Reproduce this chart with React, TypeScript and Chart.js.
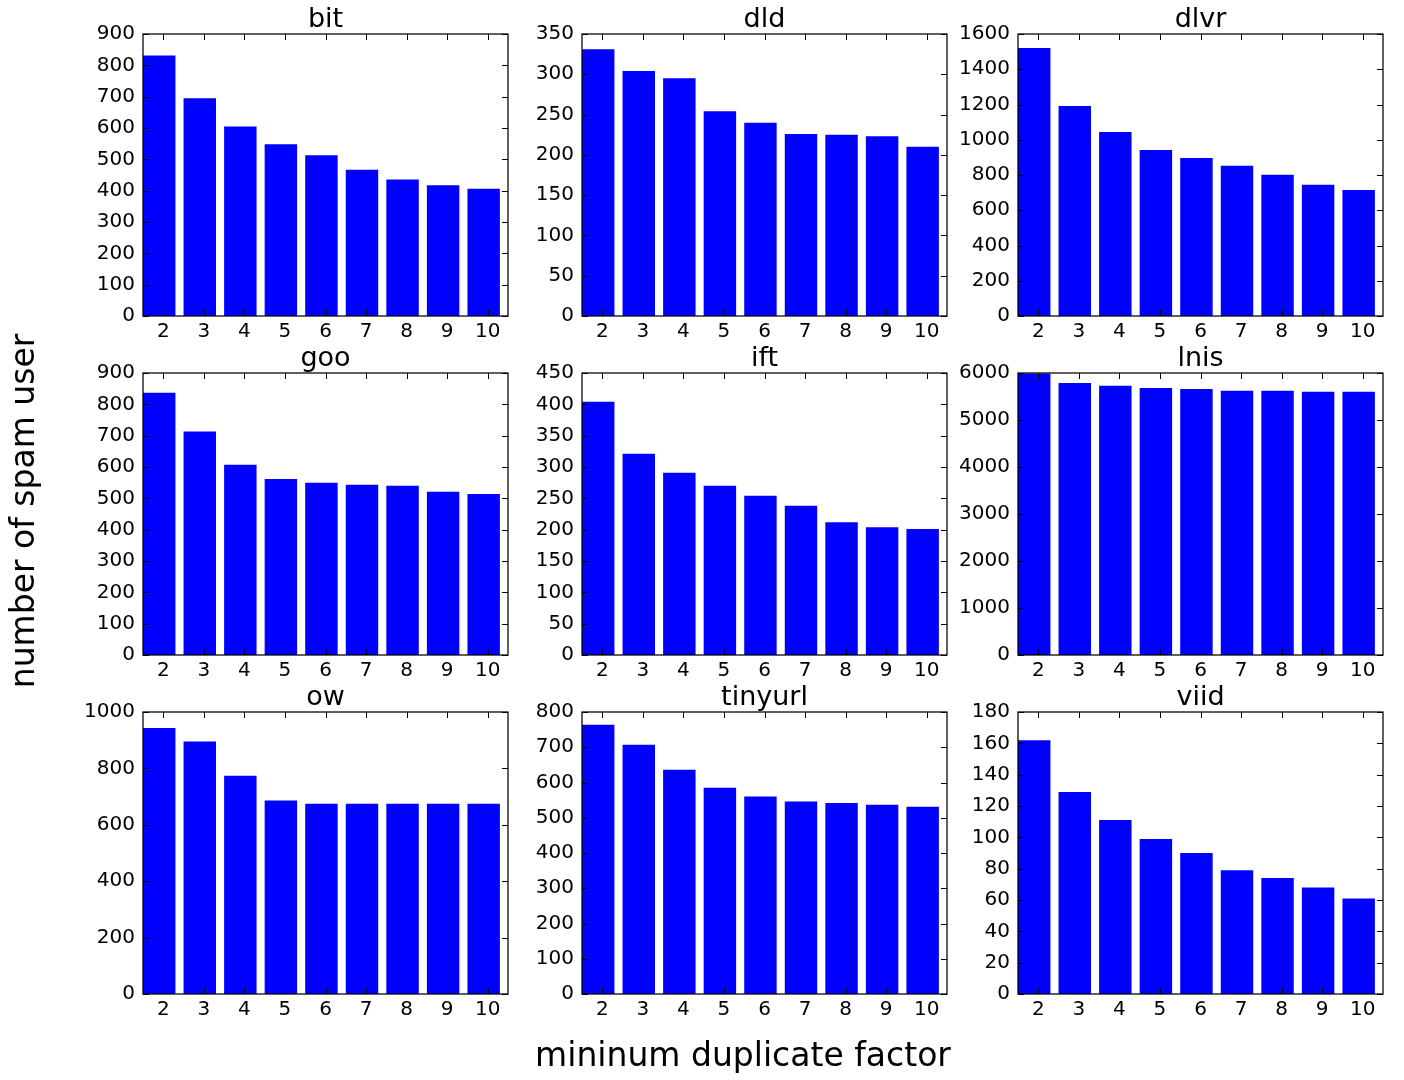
import React, { useEffect, useRef } from 'react';
import { Chart, registerables } from 'chart.js';

Chart.register(...registerables);

const FONT = '"DejaVu Sans", sans-serif';

// minimum duplicate factor on the x axis
const categories = [2, 3, 4, 5, 6, 7, 8, 9, 10];

const titles = ['bit', 'dld', 'dlvr', 'goo', 'ift', 'lnis', 'ow', 'tinyurl', 'viid'];

// number of spam users per shortener
const bitUsers = [831, 695, 605, 548, 513, 467, 436, 417, 406];
const dldUsers = [331, 304, 295, 254, 240, 226, 225, 223, 210];
const dlvrUsers = [1520, 1191, 1044, 942, 896, 853, 802, 745, 715];
const gooUsers = [837, 713, 607, 562, 550, 543, 540, 521, 514];
const iftUsers = [404, 321, 291, 270, 254, 238, 212, 204, 201];
const lnisUsers = [5990, 5788, 5731, 5682, 5660, 5625, 5625, 5603, 5603];
const owUsers = [943, 895, 774, 686, 675, 675, 675, 675, 675];
const tinyurlUsers = [764, 707, 636, 585, 560, 546, 542, 537, 531];
const viidUsers = [162, 129, 111, 99, 90, 79, 74, 68, 61];

// y tick range for each panel
const yMax = [900, 350, 1600, 900, 450, 6000, 1000, 800, 180];
const yStep = [100, 50, 200, 100, 50, 1000, 200, 100, 20];

const series = [bitUsers, dldUsers, dlvrUsers, gooUsers, iftUsers, lnisUsers, owUsers, tinyurlUsers, viidUsers];

// layout (px)
const AX_W = 365;
const AX_H = 282;
const COL_LEFT = [143, 582, 1018];
const ROW_TOP = [34, 373, 712];
const PAD_L = 80;
const PAD_T = 40;
const PAD_R = 10;
const PAD_B = 36;
const TICK = 6;
// matplotlib-style bars: span [x - 0.5, x + 0.3]
const BAR_SHIFT = -0.1;

const makeFrame = (title: string) => ({
  id: 'frame',
  afterDatasetsDraw(chart: any) {
    const { ctx, chartArea, scales } = chart;
    const { left, right, top, bottom } = chartArea;
    ctx.save();
    ctx.strokeStyle = '#000';
    ctx.lineWidth = 1;
    ctx.beginPath();
    scales.x.ticks.forEach((t: any) => {
      const px = Math.round(scales.x.getPixelForValue(t.value)) + 0.5;
      ctx.moveTo(px, bottom);
      ctx.lineTo(px, bottom - TICK);
      ctx.moveTo(px, top);
      ctx.lineTo(px, top + TICK);
    });
    scales.y.ticks.forEach((t: any) => {
      const py = Math.round(scales.y.getPixelForValue(t.value)) + 0.5;
      ctx.moveTo(left, py);
      ctx.lineTo(left + TICK, py);
      ctx.moveTo(right, py);
      ctx.lineTo(right - TICK, py);
    });
    ctx.stroke();
    ctx.lineWidth = 1.25;
    ctx.strokeRect(left, top, right - left, bottom - top);
    ctx.fillStyle = '#000';
    ctx.font = `27px ${FONT}`;
    ctx.textAlign = 'center';
    ctx.textBaseline = 'alphabetic';
    ctx.fillText(title, (left + right) / 2, top - 7);
    ctx.restore();
  },
});

const Panel: React.FC<{ idx: number }> = ({ idx }) => {
  const canvasRef = useRef<HTMLCanvasElement>(null);
  const width = AX_W + PAD_L + PAD_R;
  const height = AX_H + PAD_T + PAD_B;
  const left = COL_LEFT[idx % 3] - PAD_L;
  const top = ROW_TOP[Math.floor(idx / 3)] - PAD_T;

  useEffect(() => {
    if (!canvasRef.current) return;
    const ctx = canvasRef.current.getContext('2d');
    if (!ctx) return;
    const values = series[idx];
    const chart = new Chart(ctx, {
      type: 'bar',
      data: {
        datasets: [
          {
            data: categories.map((c, i) => ({ x: c + BAR_SHIFT, y: values[i] })),
            backgroundColor: '#0000ff',
            borderWidth: 0,
            barPercentage: 0.8,
            categoryPercentage: 1,
          },
        ],
      },
      options: {
        responsive: false,
        animation: false,
        layout: { padding: { top: PAD_T, right: PAD_R, left: 0, bottom: 0 } },
        plugins: {
          legend: { display: false },
          tooltip: { enabled: false },
          title: { display: false },
        },
        scales: {
          x: {
            type: 'linear',
            min: 1.5,
            max: 10.5,
            offset: false,
            grid: { display: false, drawTicks: false },
            border: { display: false },
            afterBuildTicks: (s: any) => {
              s.ticks = categories.map((v) => ({ value: v }));
            },
            afterFit: (s: any) => {
              s.height = PAD_B;
            },
            ticks: {
              padding: 4,
              color: '#000',
              font: { family: FONT, size: 20 },
              maxRotation: 0,
              autoSkip: false,
              callback: (v: any) => String(v),
            },
          },
          y: {
            min: 0,
            max: yMax[idx],
            grid: { display: false, drawTicks: false },
            border: { display: false },
            afterFit: (s: any) => {
              s.width = PAD_L;
            },
            ticks: {
              stepSize: yStep[idx],
              padding: 8,
              color: '#000',
              font: { family: FONT, size: 20 },
              callback: (v: any) => String(v),
            },
          },
        },
      } as any,
      plugins: [makeFrame(titles[idx])],
    });
    return () => {
      chart.destroy();
    };
  }, [idx]);

  return (
    <canvas
      ref={canvasRef}
      width={width}
      height={height}
      style={{ position: 'absolute', left, top, width, height }}
    />
  );
};

const App: React.FC = () => {
  return (
    <div
      style={{
        position: 'absolute',
        left: 0,
        top: 0,
        width: 1404,
        height: 1080,
        background: '#fff',
        fontFamily: FONT,
        overflow: 'hidden',
      }}
    >
      {titles.map((_, i) => (
        <Panel key={i} idx={i} />
      ))}
      <div
        style={{
          position: 'absolute',
          left: 743,
          top: 1038,
          transform: 'translateX(-50%)',
          fontSize: 33,
          lineHeight: 1,
          whiteSpace: 'nowrap',
          color: '#000',
        }}
      >
        mininum duplicate factor
      </div>
      <div
        style={{
          position: 'absolute',
          left: 22,
          top: 511,
          transform: 'translate(-50%, -50%) rotate(-90deg)',
          fontSize: 33,
          lineHeight: 1,
          whiteSpace: 'nowrap',
          color: '#000',
        }}
      >
        number of spam user
      </div>
    </div>
  );
};

export default App;
